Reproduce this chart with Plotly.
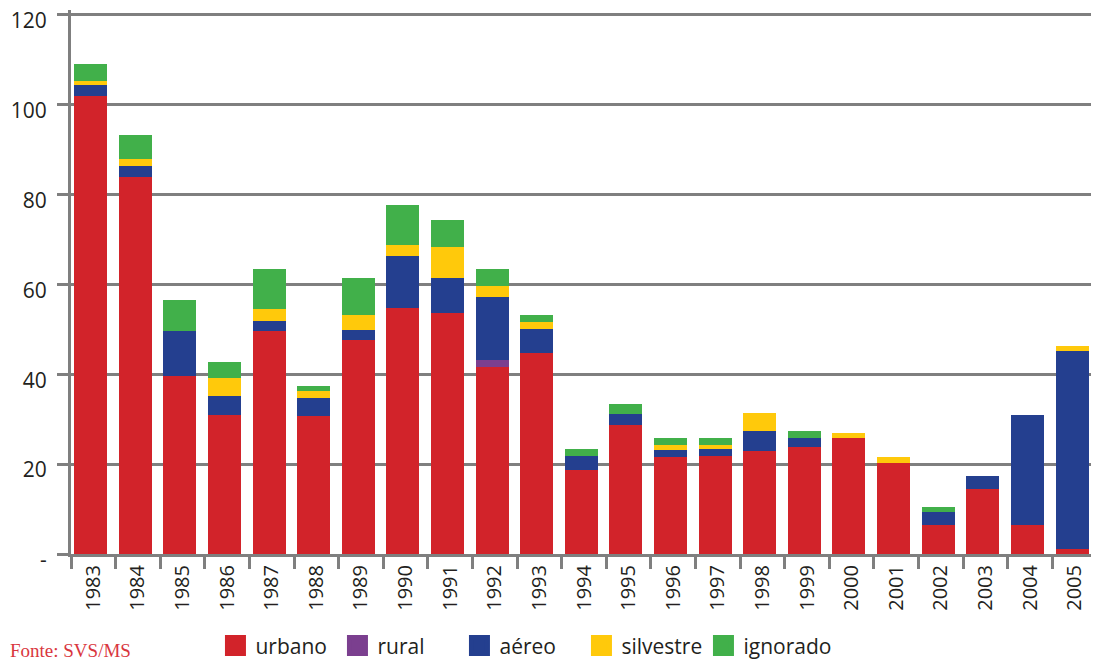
import plotly.graph_objects as go

years = ["1983", "1984", "1985", "1986", "1987", "1988", "1989", "1990", "1991", "1992",
         "1993", "1994", "1995", "1996", "1997", "1998", "1999", "2000", "2001", "2002",
         "2003", "2004", "2005"]
urbano = [101.8, 83.8, 39.7, 30.9, 49.6, 30.7, 47.7, 54.7, 53.6, 41.6, 44.7, 18.7, 28.7,
          21.6, 21.8, 22.9, 23.8, 25.8, 20.2, 6.4, 14.4, 6.4, 1.1]
rural = [0, 0, 0, 0, 0, 0, 0, 0, 0, 1.5, 0, 0, 0, 0, 0, 0, 0, 0, 0, 0, 0, 0, 0]
aereo = [2.6, 2.6, 9.9, 4.2, 2.2, 3.9, 2.2, 11.5, 7.7, 14.0, 5.3, 3.1, 2.4, 1.5, 1.5, 4.4,
         2.0, 0, 0, 2.9, 2.9, 24.5, 44.0]
silvestre = [0.9, 1.4, 0, 4.0, 2.7, 1.6, 3.3, 2.5, 6.9, 2.5, 1.6, 0, 0, 1.1, 0.9, 4.0, 0,
             1.2, 1.4, 0, 0, 0, 1.1]
ignorado = [3.6, 5.3, 6.9, 3.5, 8.8, 1.1, 8.1, 8.9, 6.0, 3.7, 1.5, 1.5, 2.2, 1.6, 1.6, 0,
            1.5, 0, 0, 1.1, 0, 0, 0]

series = [
    ("urbano", urbano, "#d2232a"),
    ("rural", rural, "#7b3f8f"),
    ("aéreo", aereo, "#243f8f"),
    ("silvestre", silvestre, "#ffc90b"),
    ("ignorado", ignorado, "#41b04a"),
]

y_tickvals = [0, 20, 40, 60, 80, 100, 120]
y_ticktext = ["-", "20", "40", "60", "80", "100", "120"]

GRID = "#7f7f7f"
TXT = "#231f20"
FONT = "Open Sans"

fig = go.Figure()
for name, vals, col in series:
    fig.add_trace(go.Bar(x=years, y=vals, name=name, width=0.74, offset=-0.43,
                         marker=dict(color=col, line=dict(width=0)),
                         showlegend=False, hoverinfo="x+y+name"))
# legend entries (larger squares)
for name, vals, col in series:
    fig.add_trace(go.Scatter(x=[None], y=[None], mode="markers", name=name,
                             marker=dict(symbol="square", size=16, color=col,
                                         line=dict(width=5, color=col)),
                             showlegend=True))
# invisible trailing legend slot so the last label is not clipped
fig.add_trace(go.Scatter(x=[None], y=[None], mode="markers", name=" ",
                         marker=dict(size=1, color="rgba(0,0,0,0)",
                                     line=dict(width=0, color="rgba(0,0,0,0)")),
                         showlegend=True, hoverinfo="skip"))

fig.update_layout(
    barmode="stack",
    width=1091, height=655,
    margin=dict(l=63, r=1.5, t=2, b=109, autoexpand=False),
    paper_bgcolor="white", plot_bgcolor="white",
    font=dict(family=FONT, color=TXT),
    legend=dict(orientation="h", traceorder="normal", x=0.1408, xanchor="left", y=-0.169,
                yanchor="middle",
                font=dict(size=21, color=TXT, family=FONT), entrywidth=77,
                itemclick=False, bgcolor="rgba(0,0,0,0)"),
    xaxis=dict(type="category", range=[-0.5, 22.5], showline=True, linecolor=GRID, linewidth=3,
               ticks="outside", ticklen=12, tickwidth=3, tickcolor=GRID, tickson="boundaries",
               tickangle=-90, tickfont=dict(size=20, color=TXT, family=FONT),
               showgrid=False, zeroline=False, ticklabelstandoff=0, automargin=False,
               ticklabeloverflow="allow"),
    yaxis=dict(range=[0, 121], tickvals=y_tickvals, ticktext=y_ticktext,
               showgrid=True, gridcolor=GRID, gridwidth=3, showline=True, linecolor=GRID,
               linewidth=3, ticks="outside", ticklen=11, tickwidth=3, tickcolor=GRID,
               tickfont=dict(size=21, color=TXT, family=FONT), zeroline=False,
               ticklabelstandoff=6, ticklabelshift=6, automargin=False,
               ticklabeloverflow="allow"),
    annotations=[dict(text="Fonte: SVS/MS", xref="paper", yref="paper", x=-0.0614, y=-0.2004,
                      xanchor="left", yanchor="bottom", showarrow=False,
                      font=dict(family="Liberation Serif", size=19, color="#d9363e"))],
)

fig.write_html("out.html")
